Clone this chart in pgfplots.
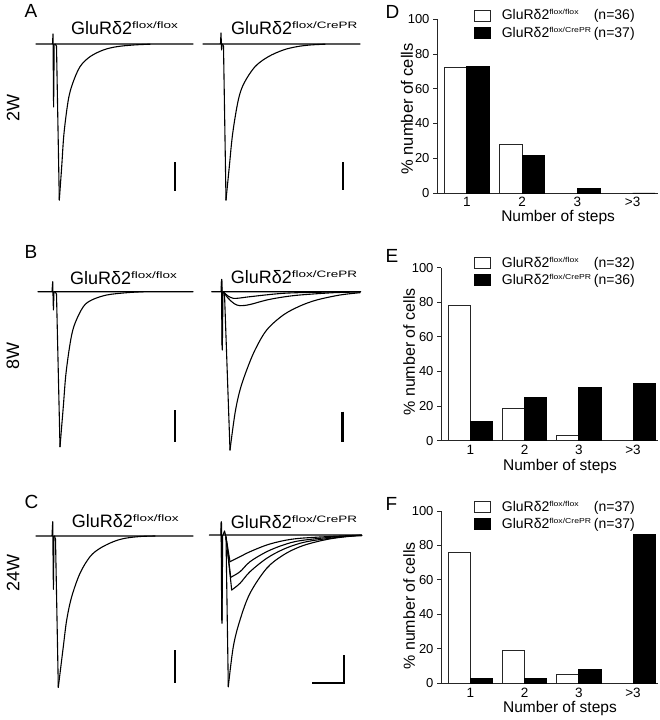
\documentclass[border=0pt]{standalone}
\usepackage{pgfplots}
\pgfplotsset{compat=1.18}
\usepackage{graphicx}
\usepackage{fontspec}
\setmainfont{Liberation Sans}
\newcommand\fs[1]{\fontsize{#1}{#1}\selectfont}
\newcommand\tsup[1]{\raisebox{5.8pt}{\scalebox{1.45}[1]{\fs{9.3}#1}}}
\newcommand\lsup[1]{\raisebox{5pt}{\scalebox{1.2}[1]{\fs{7.2}#1}}}
\pgfplotsset{
 trace/.style={black, line width=1.1pt, line join=round, line cap=round, mark=none},
 dec/.style={trace, smooth, tension=0.55},
 sbar/.style={black, line width=2.8pt, mark=none},
 mybox/.style={legend image code/.code={\draw[##1, line width=0.7pt] (0pt,-5.5pt) rectangle (16pt,5.5pt);}},
 barax/.style={scale only axis, anchor=south west, xmin=0.46, xmax=4.46, ymin=0, ymax=100,
  axis x line*=bottom, axis y line*=left, xtick={1,2,3,4}, xticklabels={1,2,3,>3},
  ytick={0,20,40,60,80,100}, tick align=outside, major tick length=4pt,
  x tick style={draw=none}, axis line style={line width=0.9pt, black!85},
  y tick style={line width=0.9pt, black!85},
  /pgf/number format/assume math mode=true,
  yticklabel style={font=\fs{13}}, xticklabel style={font=\fs{13.5}, anchor=base, yshift=-10pt},
  xlabel={Number of steps}, ylabel={\% number of cells},
  legend cell align=left, clip=false,
  legend style={draw=none, fill=none, inner sep=0pt, row sep=3.5pt, font=\fs{14},
   nodes={inner sep=1pt}, column sep=10pt, anchor=north west}},
 wbar/.style={ybar, bar width=0.41, bar shift=-0.205, fill=white, draw=black!85, line width=0.8pt, mybox},
 kbar/.style={ybar, bar width=0.41, bar shift=0.205, fill=black, draw=black, line width=0.8pt, mybox}
}
\begin{document}
\begin{tikzpicture}
\path (0,0) rectangle (660pt,720pt);
% ---------- traces (pixel coordinates) ----------
\begin{axis}[at={(0,0)}, anchor=south west, scale only axis, width=660pt, height=720pt,
  xmin=0, xmax=660, ymin=0, ymax=720, y dir=reverse, hide axis, clip=false]
% A left
\addplot[trace] coordinates {(36,44)(52.5,44)(53,34)(53.6,107)(54.2,44)(193,44)};
\addplot[trace] coordinates {(55,44)(56.5,46)(59.3,200)};
\addplot[dec] coordinates {(59.3,200)(61.7,166.7)(64,133.3)(68.3,100)(72.7,83.3)(80,66.7)(90,56.7)(103.3,50)(116.7,46.7)(133.3,45)(150,44.2)};
\addplot[sbar] coordinates {(175,162)(175,191)};
% A right
\addplot[trace] coordinates {(203,44)(220.5,44)(221,33)(221.6,50)(222.2,44)(360,44)};
\addplot[trace] coordinates {(222.5,44)(223.5,46)(226,200)};
\addplot[dec] coordinates {(226,200)(229.3,166.7)(232.7,133.3)(238.3,100)(244,83.3)(255,66.7)(268.3,56.7)(283.3,50)(296.7,46.7)(310,45)(325,44.2)};
\addplot[sbar] coordinates {(343,162)(343,190)};
% B left
\addplot[trace] coordinates {(38,291.7)(52,291.7)(52.7,281.7)(53.4,310)(54,291.7)(193,291.7)};
\addplot[trace] coordinates {(55,291.7)(56.5,294)(60,446.7)};
\addplot[dec] coordinates {(60,446.7)(63.3,406.7)(66,373.3)(70.7,340)(75,323.3)(83.3,306.7)(91.7,300)(106.7,295)(126.7,292.7)(143.3,291.7)};
\addplot[sbar] coordinates {(175,410)(175,442)};
% B right
\addplot[trace] coordinates {(211.7,291.7)(221,291.7)(221.7,279.3)(222.3,350)(223,291.7)(360.7,291.7)};
\addplot[trace, line width=1.5pt] coordinates {(221.7,281)(222.2,345)};
\addplot[trace] coordinates {(223,291.7)(224.5,294)(230,450)};
\addplot[dec] coordinates {(230,450)(235,413.3)(240,390)(246.7,370)(255,350)(266.7,330)(283.3,315)(300,306)(316.7,300)(340,295)(360,292.7)};
\addplot[dec] coordinates {(223.5,292)(228,298)(234,303.5)(240,305.7)(250,304.5)(266.7,300)(283.3,297)(300,295)(333.3,292.7)(360,292)};
\addplot[dec] coordinates {(223.5,292)(228,296)(233.3,298.3)(240,298)(250,296.7)(283.3,293.3)(316.7,292.3)(340,291.9)};
\addplot[sbar] coordinates {(342.7,411.7)(342.7,441.7)};
% C left
\addplot[trace] coordinates {(36,536)(52,536)(52.7,521.7)(53.4,589.3)(54,536)(193,536)};
\addplot[trace] coordinates {(54.5,536)(55.5,539)(58.3,687.3)};
\addplot[dec] coordinates {(58.3,687.3)(63.3,646.7)(66.7,620)(71.7,596.7)(80,573.3)(90,556.7)(100,548.3)(113.3,541.7)(125,538.3)(140,536.5)(155,536)};
\addplot[sbar] coordinates {(175,650)(175,683)};
% C right
\addplot[trace] coordinates {(209.3,535)(220.8,535)(221.3,521.7)(222,623.3)(222.7,535)(361.7,535)};
\addplot[trace, line width=1.5pt] coordinates {(221.4,523)(221.9,620)};
\addplot[trace] coordinates {(223,535)(224.5,531)(226,537)(228.3,686.7)};
\addplot[dec] coordinates {(228.3,686.7)(233.3,646.7)(240,620)(250,593.3)(266.7,568.3)(283.3,555)(300,546.7)(316.7,541.7)(333.3,538.3)(350,536.3)(361.7,535.7)};
\addplot[trace] coordinates {(226,537)(231.7,590)};
\addplot[dec] coordinates {(231.7,590)(240,583.3)(250,571.7)(266.7,558.3)(283.3,549.3)(300,543.3)(316.7,540)(350,536)(361.7,535.3)};
\addplot[trace] coordinates {(226,537)(230.7,577.3)};
\addplot[dec] coordinates {(230.7,577.3)(240,571.7)(250,561.7)(266.7,551.7)(283.3,545)(300,540.7)(333.3,537)(361.7,535.3)};
\addplot[trace] coordinates {(226,537)(230,561.7)};
\addplot[dec] coordinates {(230,561.7)(240,556.7)(250,551.7)(266.7,545)(283.3,540.7)(300,538.3)(333.3,536.3)(361.7,535.2)};
\addplot[sbar, line join=miter] coordinates {(344,655)(344,683)(311.7,683)};
% texts
\node[anchor=base west, font=\fs{19}] at (axis cs:21,17) {A};
\node[anchor=base west, font=\fs{19}] at (axis cs:21,258) {B};
\node[anchor=base west, font=\fs{19}] at (axis cs:21,508) {C};
\node[anchor=base west, font=\fs{19}] at (axis cs:382,18) {D};
\node[anchor=base west, font=\fs{19}] at (axis cs:382,262) {E};
\node[anchor=base west, font=\fs{19}] at (axis cs:382,510) {F};
\node[rotate=90, font=\fs{18}] at (axis cs:13,108) {2W};
\node[rotate=90, font=\fs{18}] at (axis cs:13,356) {8W};
\node[rotate=90, font=\fs{18}] at (axis cs:13,573) {24W};
\node[anchor=base west, font=\fs{18}, inner sep=0pt] at (axis cs:71,34) {GluRδ2\tsup{flox/flox}};
\node[anchor=base west, font=\fs{18}, inner sep=0pt] at (axis cs:231,34) {GluRδ2\tsup{flox/CrePR}};
\node[anchor=base west, font=\fs{18}, inner sep=0pt] at (axis cs:70,284) {GluRδ2\tsup{flox/flox}};
\node[anchor=base west, font=\fs{18}, inner sep=0pt] at (axis cs:230.7,283) {GluRδ2\tsup{flox/CrePR}};
\node[anchor=base west, font=\fs{18}, inner sep=0pt] at (axis cs:71.7,527) {GluRδ2\tsup{flox/flox}};
\node[anchor=base west, font=\fs{18}, inner sep=0pt] at (axis cs:230.7,528) {GluRδ2\tsup{flox/CrePR}};
\end{axis}
% ---------- D ----------
\begin{axis}[barax, at={(437pt,527pt)}, width=221pt, height=173.7pt,
  xlabel style={font=\fs{15.5}, at={(axis description cs:0.548,0)}, anchor=base, yshift=-28.5pt},
  ylabel style={font=\fs{16.5}, at={(axis description cs:-0.109,0.484)}, anchor=base},
  legend style={at={(axis description cs:0.167,1.062)}}]
\addplot[wbar] coordinates {(1,72.2)(2,27.8)(3,0)(4,0)};
\addplot[kbar] coordinates {(1,73.0)(2,21.6)(3,2.7)(4,0)};
\legend{\makebox[92pt][l]{GluRδ2\lsup{flox/flox}}(n=36), \makebox[92pt][l]{GluRδ2\lsup{flox/CrePR}}(n=37)}
\end{axis}
% ---------- E ----------
\begin{axis}[barax, at={(441pt,279.3pt)}, width=217pt, height=173pt,
  xlabel style={font=\fs{15.5}, at={(axis description cs:0.548,0)}, anchor=base, yshift=-29.5pt},
  ylabel style={font=\fs{16}, at={(axis description cs:-0.12,0.513)}, anchor=base},
  legend style={at={(axis description cs:0.152,1.07)}}]
\addplot[wbar] coordinates {(1,78.1)(2,18.75)(3,3.1)(4,0)};
\addplot[kbar] coordinates {(1,11.1)(2,25.0)(3,30.6)(4,33.3)};
\legend{\makebox[92pt][l]{GluRδ2\lsup{flox/flox}}(n=32), \makebox[92pt][l]{GluRδ2\lsup{flox/CrePR}}(n=36)}
\end{axis}
% ---------- F ----------
\begin{axis}[barax, at={(441pt,36.7pt)}, width=217pt, height=172.3pt,
  xlabel style={font=\fs{15.5}, at={(axis description cs:0.548,0)}, anchor=base, yshift=-29.5pt},
  ylabel style={font=\fs{16}, at={(axis description cs:-0.12,0.449)}, anchor=base},
  legend style={at={(axis description cs:0.152,1.066)}}]
\addplot[wbar] coordinates {(1,75.7)(2,18.9)(3,5.4)(4,0)};
\addplot[kbar] coordinates {(1,2.7)(2,2.7)(3,8.1)(4,86.5)};
\legend{\makebox[92pt][l]{GluRδ2\lsup{flox/flox}}(n=37), \makebox[92pt][l]{GluRδ2\lsup{flox/CrePR}}(n=37)}
\end{axis}
\end{tikzpicture}
\end{document}
